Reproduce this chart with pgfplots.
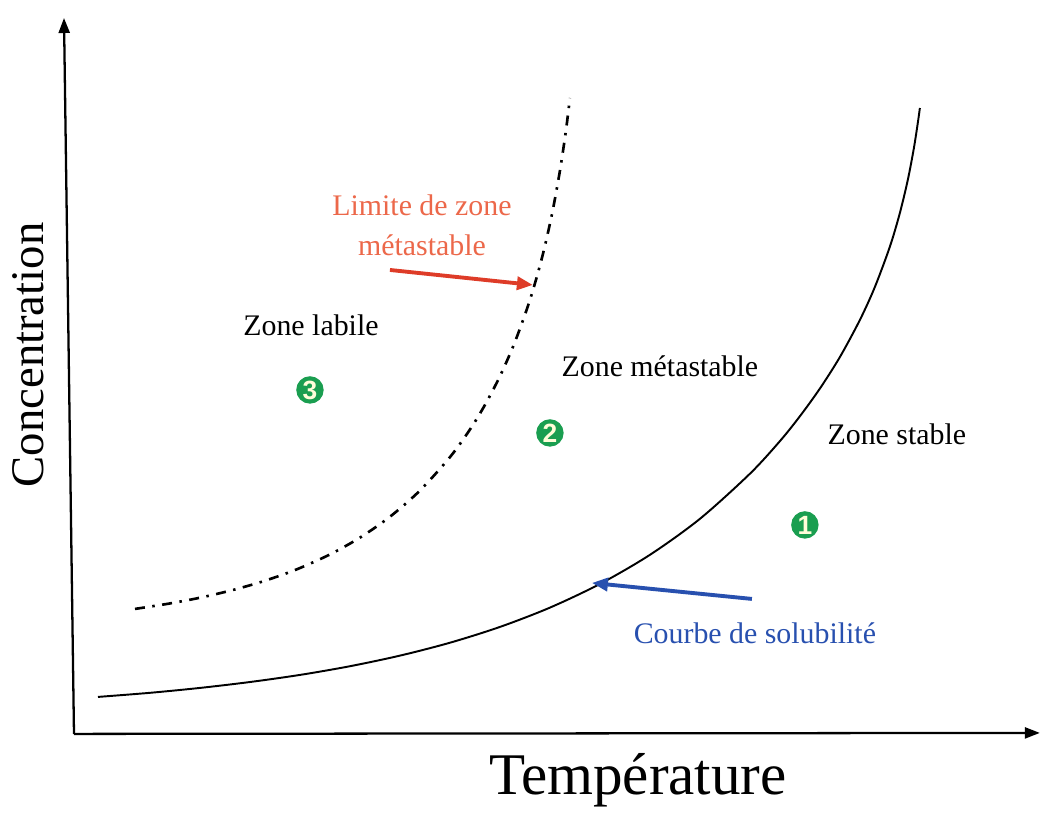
\documentclass[border=0pt]{standalone}
\usepackage{pgfplots}
\pgfplotsset{compat=1.18}
\usepackage{fontspec}
\setmainfont{Liberation Serif}
\setsansfont{Liberation Sans}
\usetikzlibrary{arrows.meta}
\definecolor{limred}{RGB}{236,104,74}
\definecolor{arrred}{RGB}{222,60,40}
\definecolor{solblue}{RGB}{40,80,175}
\definecolor{zgreen}{RGB}{26,158,80}
\begin{document}
\begin{tikzpicture}
\begin{axis}[
  width=10.41cm, height=8.05cm, scale only axis,
  xmin=0, xmax=1041, ymin=0, ymax=805,
  axis lines=none, ticks=none, clip=false,
]
\path (axis cs:0,0) rectangle (axis cs:1041,805);
% axes
\addplot[line width=0.65pt, -{Triangle[length=1.5mm,width=1.1mm]}] coordinates {(74,71) (64,787)};
\addplot[line width=0.65pt, -{Triangle[length=1.5mm,width=1.1mm]}] coordinates {(74,71) (1040,72)};
% solubility curve
\addplot[line width=0.55pt, smooth] coordinates {
(98,108) (150,112.1) (200,117) (250,122.9) (300,130) (350,138.7) (400,149.3)
(450,162.2) (500,178) (550,197.3) (600,221) (650,250.1) (700,286.1) (750,331.2)
(780,363.8) (800,388.7) (820,416.4) (840,447.9) (860,485) (875,518) (890,558.3)
(900,592) (908,625.4) (914,656.8) (918,682.5) (920,697)};
% metastable limit
\addplot[line width=0.75pt, smooth, dash pattern=on 1mm off 0.75mm on 0.25mm off 0.75mm] coordinates {
(135,196) (170,201.5) (200,207.2) (230,214.2) (257,221.7) (280,229.3) (300,236.9)
(330,250.5) (360,267.3) (390,288.2) (420,314.4) (450,347.8) (470,375.4) (485,400)
(500,428.7) (515,463) (530,505) (542,547) (552,590.6) (560,634.2) (566,674.3) (570,707)};
% annotation arrows
\addplot[arrred, line width=1.1pt, -{Triangle[length=1.6mm,width=1.3mm]}] coordinates {(390,535) (533,520)};
\addplot[solblue, line width=1.1pt, -{Triangle[length=1.6mm,width=1.3mm]}] coordinates {(752,206) (592,222)};
% numbered zones
\addplot[only marks, mark=*, mark size=3.7pt, color=zgreen,
  nodes near coords, point meta=explicit symbolic,
  every node near coord/.style={anchor=center, text=yellow!15!white, font=\sffamily\bfseries\fontsize{7.5}{8}\selectfont}]
  coordinates {(310,415)[3] (550,372)[2] (805,280)[1]};
% labels
\node[font=\fontsize{8.5}{10}\selectfont] at (axis cs:311,480) {Zone labile};
\node[font=\fontsize{8.5}{10}\selectfont] at (axis cs:660,439) {Zone métastable};
\node[font=\fontsize{8.5}{10}\selectfont] at (axis cs:897,371) {Zone stable};
\node[font=\fontsize{8.5}{11.4}\selectfont, text=limred, align=center] at (axis cs:422,580) {Limite de zone\\métastable};
\node[font=\fontsize{8.5}{10}\selectfont, text=solblue] at (axis cs:755,172) {Courbe de solubilité};
\node[font=\fontsize{13.3}{15}\selectfont, rotate=90] at (axis cs:28,450) {Concentration};
\node[font=\fontsize{16.8}{18}\selectfont] at (axis cs:638,25) {Température};
\end{axis}
\end{tikzpicture}
\end{document}
